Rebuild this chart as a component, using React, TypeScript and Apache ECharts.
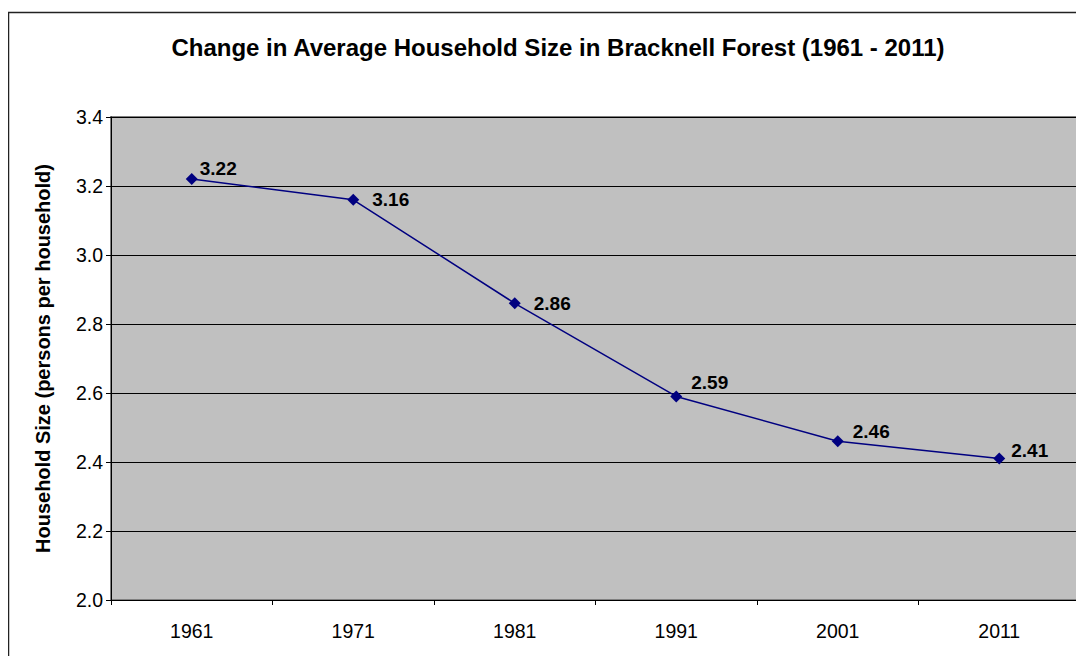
import React, { useEffect, useRef } from "react";
import * as echarts from "echarts";

const years = ["1961", "1971", "1981", "1991", "2001", "2011"];
const householdSize = [3.22, 3.16, 2.86, 2.59, 2.46, 2.41];
const labelOffsets: [number, number][] = [
  [0, -11],
  [11, 0],
  [11, 0],
  [7, -14],
  [7, -10],
  [4, -8],
];

const FONT = "Liberation Sans, Arial, sans-serif";

export default function App() {
  const ref = useRef<HTMLDivElement>(null);
  useEffect(() => {
    if (!ref.current) return;
    const chart = echarts.init(ref.current, undefined, { renderer: "svg" });
    chart.setOption({
      animation: false,
      backgroundColor: "#ffffff",
      textStyle: { fontFamily: FONT },
      graphic: [
        {
          type: "rect",
          shape: { x: 0.5, y: 4.5, width: 1200, height: 800 },
          style: { fill: "none", stroke: "#222222", lineWidth: 1.5 },
          silent: true,
          z: -1,
        },
      ],
      title: {
        text: "Change in Average Household Size in Bracknell Forest (1961 - 2011)",
        left: 545,
        top: 22,
        textAlign: "center",
        textStyle: {
          fontFamily: FONT,
          fontSize: 24,
          fontWeight: "bold",
          color: "#000",
        },
      },
      grid: {
        left: 103,
        top: 109,
        right: 4,
        bottom: 56,
        show: true,
        backgroundColor: "#C0C0C0",
        borderColor: "#808080",
        borderWidth: 2,
      },
      xAxis: {
        type: "category",
        data: years,
        boundaryGap: true,
        axisLine: { show: true, lineStyle: { color: "#000", width: 1 } },
        axisTick: { show: true, length: 5, inside: false, lineStyle: { color: "#000" } },
        axisLabel: { color: "#000", fontSize: 19.5, margin: 21, fontFamily: FONT },
        splitLine: { show: false },
      },
      yAxis: {
        type: "value",
        min: 2.0,
        max: 3.4,
        interval: 0.2,
        name: "Household Size (persons per household)",
        nameLocation: "middle",
        nameGap: 58,
        nameRotate: 90,
        nameTextStyle: {
          fontFamily: FONT,
          fontSize: 20,
          fontWeight: "bold",
          color: "#000",
        },
        axisLine: { show: true, lineStyle: { color: "#000", width: 1 } },
        axisTick: { show: true, length: 5, lineStyle: { color: "#000" } },
        axisLabel: {
          color: "#000",
          fontSize: 19.5,
          margin: 8,
          fontFamily: FONT,
          formatter: (v: number) => v.toFixed(1),
        },
        splitLine: { show: true, lineStyle: { color: "#000", width: 1 } },
      },
      series: [
        {
          type: "line",
          data: householdSize.map((v, i) => ({
            value: v,
            label: { offset: labelOffsets[i] },
          })),
          symbol: "diamond",
          symbolSize: 12,
          lineStyle: { color: "#000080", width: 1.5 },
          itemStyle: { color: "#000080" },
          label: {
            show: true,
            position: "right",
            distance: 2,
            fontSize: 19,
            fontWeight: "bold",
            color: "#000",
            fontFamily: FONT,
            formatter: (p: any) => Number(p.value).toFixed(2),
          },
        },
      ],
    });
    return () => chart.dispose();
  }, []);
  return <div ref={ref} style={{ width: 1076, height: 648 }} />;
}
